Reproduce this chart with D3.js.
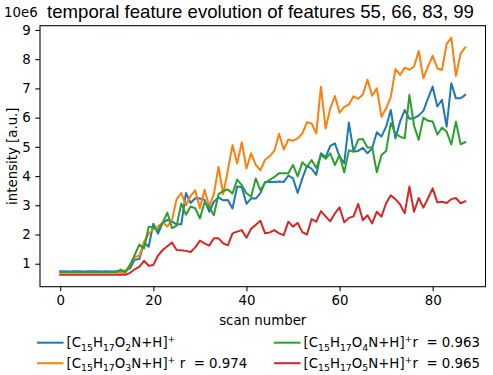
<!DOCTYPE html>
<html><head><meta charset="utf-8">
<script src="https://cdn.jsdelivr.net/npm/d3@7"></script>
<style>body{margin:0;background:#fff}svg text{font-family:"DejaVu Sans",sans-serif;fill:#000}</style>
</head><body><svg id="c" width="493" height="375"></svg>
<script>
// ---- data (intensity in units of 1e6) ----
const blue = [0.74,0.74,0.73,0.74,0.74,0.73,0.74,0.74,0.74,0.73,0.74,0.73,0.74,0.74,
 0.76,0.84,1.14,1.16,1.73,1.58,2.37,2.03,2.40,2.50,2.44,2.35,2.35,3.42,3.08,3.24,
 3.23,3.19,2.78,3.12,3.27,3.17,3.18,2.89,3.64,3.63,3.05,3.24,3.23,3.42,3.80,3.80,
 3.80,3.81,3.80,4.02,3.92,3.42,3.92,4.35,4.25,4.04,4.78,4.64,5.03,5.12,4.66,4.44,
 5.83,4.84,4.86,4.97,4.78,4.95,5.50,5.35,5.69,6.26,5.29,5.86,6.26,5.96,5.98,6.07,
 6.23,6.66,7.06,6.38,6.61,5.69,7.18,6.66,6.66,6.78];
const orange = [0.70,0.70,0.70,0.70,0.70,0.70,0.70,0.70,0.70,0.70,0.70,0.70,0.70,0.70,
 0.68,0.95,1.23,1.27,1.75,2.03,2.18,2.27,2.41,2.27,2.50,3.21,3.42,3.00,3.32,3.51,
 2.90,3.53,2.95,3.38,4.32,3.38,4.20,5.06,4.43,5.16,4.26,4.78,4.38,4.20,4.56,4.68,
 4.87,5.45,4.91,5.25,5.21,5.29,5.46,5.84,5.80,5.46,7.06,5.63,6.32,6.74,6.17,6.37,
 6.45,6.73,6.65,6.79,7.30,6.75,7.00,6.03,6.32,6.70,7.66,7.46,7.71,7.64,7.75,8.28,
 7.35,7.75,8.12,7.69,7.63,8.52,8.74,7.43,8.20,8.40];
const green = [0.72,0.72,0.72,0.72,0.72,0.72,0.72,0.72,0.72,0.72,0.72,0.72,0.72,0.80,
 0.72,0.97,1.30,1.66,1.52,2.27,2.24,2.15,2.40,2.75,2.22,2.30,3.06,2.68,2.96,2.90,
 2.55,3.10,2.95,2.66,3.38,3.49,3.54,3.40,3.88,3.69,3.41,3.29,3.92,3.51,3.77,3.87,
 3.97,4.10,4.10,4.10,4.38,3.99,4.47,4.32,4.55,4.28,4.72,4.59,4.78,4.38,4.72,4.12,
 4.88,4.84,5.25,5.27,4.98,4.98,4.13,4.72,4.86,5.82,5.45,5.35,5.29,6.78,5.73,5.24,
 6.00,5.89,5.87,5.42,5.66,5.52,5.08,5.86,5.09,5.16];
const red = [0.62,0.62,0.62,0.62,0.62,0.62,0.62,0.62,0.62,0.62,0.62,0.62,0.62,0.62,
 0.62,0.69,0.81,0.90,1.10,0.93,0.96,1.28,1.47,1.60,1.73,1.47,1.46,1.44,1.40,1.56,
 1.79,1.70,1.62,1.87,1.87,1.70,1.63,2.04,2.10,2.15,1.89,2.20,2.33,2.47,2.04,2.07,
 2.15,2.04,1.98,2.44,2.27,2.40,2.08,2.00,2.53,2.44,2.80,2.62,2.45,2.72,2.93,2.42,
 2.57,2.62,3.05,2.49,2.66,2.38,2.78,2.61,3.07,3.34,3.21,3.03,2.73,3.64,2.78,3.25,
 2.92,3.24,3.58,3.10,3.12,3.08,3.21,3.25,3.07,3.14];
const seriesData = [blue, orange, green, red];
const seriesColors = ["#1f77b4","#ff7f0e","#2ca02c","#d62728"];
const oxygenCounts = ["2","3","4","5"];
const rSuffix = ["", " r  = 0.974", "r  = 0.963", "r  = 0.965"];
const xTicks = [0,20,40,60,80];
const yTicks = [1,2,3,4,5,6,7,8,9];
const titleText = "temporal feature evolution of features 55, 66, 83, 99";
const xLabel = "scan number";
const yLabel = "intensity [a.u.]";
const offsetText = "10e6";

// ---- layout ----
const svg = d3.select("#c");
const L = 40, R = 485.5, T = 25.7, B = 286.7;
const n = blue.length;
const xPad = (n - 1) * 0.05;
const x = d3.scaleLinear().domain([-xPad, n - 1 + xPad]).range([L, R]);
const all = seriesData.flat();
const [mn, mx] = d3.extent(all);
const yPad = (mx - mn) * 0.05;
const y = d3.scaleLinear().domain([mn - yPad, mx + yPad]).range([B, T]);
const fs = 13.33;

// lines
const line = d3.line().x((d, i) => x(i)).y(d => y(d));
svg.append("g").selectAll("path").data(seriesData).join("path")
  .attr("d", line).attr("fill", "none")
  .attr("stroke", (d, i) => seriesColors[i]).attr("stroke-width", 2)
  .attr("stroke-linejoin", "round").attr("stroke-linecap", "square");

// axes
const xa = svg.append("g").attr("transform", `translate(0,${B})`)
  .call(d3.axisBottom(x).tickValues(xTicks).tickSize(4.67).tickPadding(4.67).tickFormat(d3.format("d")));
const ya = svg.append("g").attr("transform", `translate(${L},0)`)
  .call(d3.axisLeft(y).tickValues(yTicks).tickSize(4.67).tickPadding(4.67).tickFormat(d3.format("d")));
[xa, ya].forEach(a => {
  a.select(".domain").remove();
  a.selectAll("line").attr("stroke", "#000").attr("stroke-width", 1.07);
  a.selectAll("text").attr("font-size", fs).attr("font-family", "DejaVu Sans");
});

// frame
svg.append("rect").attr("x", L).attr("y", T).attr("width", R - L).attr("height", B - T)
  .attr("fill", "none").attr("stroke", "#000").attr("stroke-width", 1.07);

// texts
svg.append("text").attr("x", 260.5).attr("y", 18.3).attr("text-anchor", "middle")
  .attr("font-size", 18.6).style("font-family", "'Liberation Sans', Arial, sans-serif").text(titleText);
svg.append("text").attr("x", 4).attr("y", 17.2).attr("font-size", fs).text(offsetText);
svg.append("text").attr("x", (L + R) / 2).attr("y", 324.5).attr("text-anchor", "middle")
  .attr("font-size", fs).text(xLabel);
svg.append("text").attr("transform", `translate(17,${(T + B) / 2}) rotate(-90)`)
  .attr("text-anchor", "middle").attr("font-size", fs).text(yLabel);

// legend (column-major, 2 columns)
const legPos = [[37, 342.7], [37, 363.2], [274, 342.7], [274, 363.2]];
seriesData.forEach((s, i) => {
  const [lx, ly] = legPos[i];
  svg.append("line").attr("x1", lx).attr("x2", lx + 26.5).attr("y1", ly).attr("y2", ly)
    .attr("stroke", seriesColors[i]).attr("stroke-width", 2);
  const t = svg.append("text").attr("x", lx + 29.5).attr("y", ly + 4.6)
    .attr("font-size", fs).style("white-space", "pre");
  const parts = [["[C", 0], ["15", 1], ["H", 0], ["17", 1], ["O", 0], [oxygenCounts[i], 1], ["N+H]", 0], ["+", 2], [rSuffix[i], 0]];
  let shift = 0;
  parts.forEach(([txt, k]) => {
    if (!txt) return;
    const target = k === 1 ? 3.2 : k === 2 ? -5.2 : 0;
    t.append("tspan").attr("dy", target - shift)
      .attr("font-size", k ? fs * 0.7 : fs).text(txt);
    shift = target;
  });
});
</script></body></html>
